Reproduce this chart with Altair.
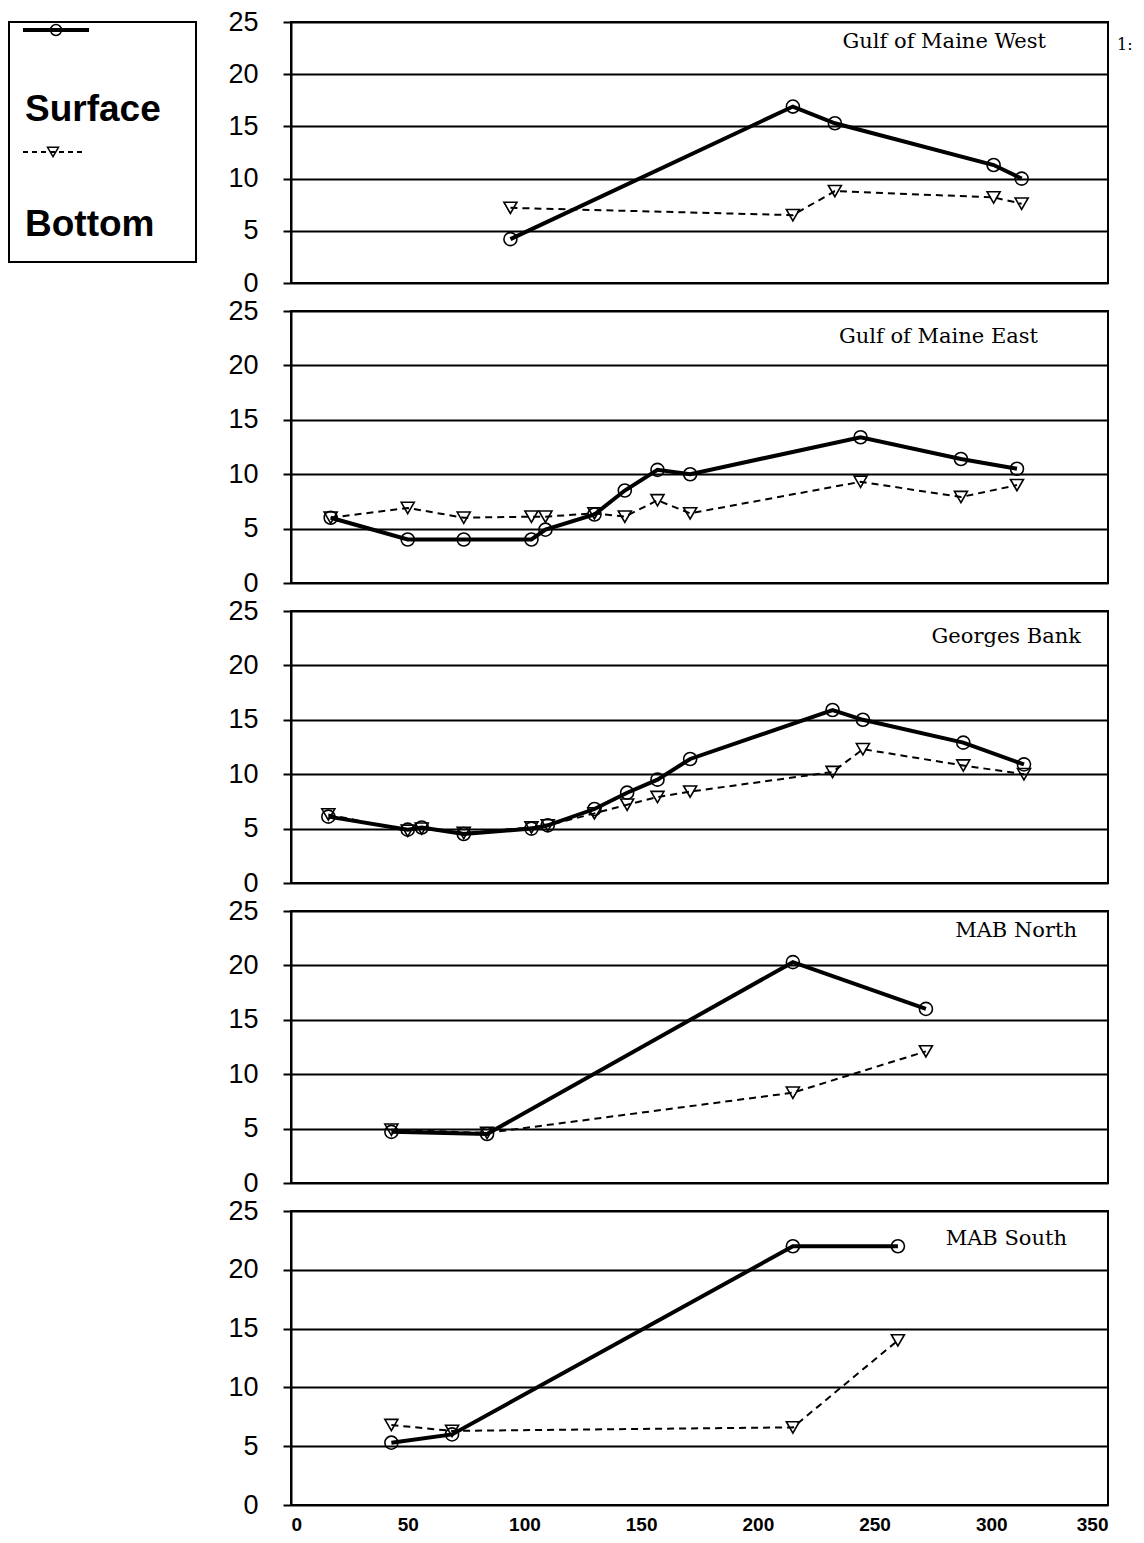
import altair as alt
import pandas as pd

# ---------------- data ----------------
region_names = ["Gulf of Maine West", "Gulf of Maine East", "Georges Bank", "MAB North", "MAB South"]
series_names = ["Surface", "Bottom"]
x_ticks = [0, 50, 100, 150, 200, 250, 300, 350]
y_ticks = [0, 5, 10, 15, 20, 25]

gomw_x = [94, 215, 233, 301, 313]
gomw_surface = [4.2, 16.9, 15.3, 11.3, 10.0]
gomw_bottom = [7.2, 6.5, 8.8, 8.2, 7.6]

gome_x = [17, 50, 74, 103, 109, 130, 143, 157, 171, 244, 287, 311]
gome_surface = [6.0, 4.0, 4.0, 4.0, 4.9, 6.3, 8.5, 10.4, 10.0, 13.4, 11.4, 10.5]
gome_bottom = [6.0, 6.9, 6.0, 6.1, 6.1, 6.4, 6.1, 7.6, 6.4, 9.3, 7.9, 9.0]

gb_x = [16, 50, 56, 74, 103, 110, 130, 144, 157, 171, 232, 245, 288, 314]
gb_surface = [6.1, 4.9, 5.1, 4.5, 5.0, 5.3, 6.8, 8.3, 9.5, 11.4, 15.9, 15.0, 12.9, 10.9]
gb_bottom = [6.3, 4.8, 5.0, 4.6, 5.1, 5.3, 6.4, 7.2, 7.9, 8.4, 10.2, 12.3, 10.8, 10.0]

mabn_x = [43, 84, 215, 272]
mabn_surface = [4.7, 4.5, 20.3, 16.0]
mabn_bottom = [4.9, 4.6, 8.3, 12.1]

mabs_x = [43, 69, 215, 260]
mabs_surface = [5.3, 6.0, 22.0, 22.0]
mabs_bottom = [6.8, 6.3, 6.6, 14.0]

panels_data = [
    (gomw_x, gomw_surface, gomw_bottom),
    (gome_x, gome_surface, gome_bottom),
    (gb_x, gb_surface, gb_bottom),
    (mabn_x, mabn_surface, mabn_bottom),
    (mabs_x, mabs_surface, mabs_bottom),
]

# ---------------- layout / style ----------------
PLOT_W = 817
heights = [261, 272, 272, 272, 294]
title_pos = [(755, 20), (747, 26), (790, 26), (786, 20), (776, 28)]
AXIS_FONT = "Liberation Sans"
TITLE_FONT = "DejaVu Serif"
MARK_SIZE = 170


def make_panel(i):
    xs, surf, bot = panels_data[i]
    df = pd.DataFrame({
        "day": xs + xs,
        "temp": surf + bot,
        "series": [series_names[0]] * len(xs) + [series_names[1]] * len(xs),
    })
    show_x = i == len(panels_data) - 1
    x_axis = alt.Axis(values=x_ticks, ticks=False, domain=False, grid=False,
                      labelFontSize=19, labelFont=AXIS_FONT, labelFontWeight="bold",
                      labelColor="black", labelPadding=10, title=None) if show_x else None
    y_axis = alt.Axis(values=y_ticks, grid=True, gridColor="black", gridWidth=2, gridOpacity=1,
                      tickSize=8, tickColor="black", tickWidth=2,
                      domainColor="black", domainWidth=2,
                      labelFontSize=27, labelFont=AXIS_FONT, labelColor="black",
                      labelPadding=25, title=None)
    enc = dict(
        x=alt.X("day:Q", scale=alt.Scale(domain=[0, 350], nice=False), axis=x_axis),
        y=alt.Y("temp:Q", scale=alt.Scale(domain=[0, 25], nice=False), axis=y_axis),
    )
    base = alt.Chart(df)
    s = base.transform_filter(alt.datum.series == "Surface")
    b = base.transform_filter(alt.datum.series == "Bottom")
    s_line = s.mark_line(color="black", strokeWidth=4).encode(**enc)
    s_pts = s.mark_point(shape="circle", size=MARK_SIZE, color="black", strokeWidth=1.6,
                         filled=False, opacity=1).encode(**enc)
    b_line = b.mark_line(color="black", strokeWidth=2, strokeDash=[7, 5]).encode(**enc)
    b_pts = b.mark_point(shape="triangle-down", size=MARK_SIZE, color="black", strokeWidth=1.6,
                         filled=False, opacity=1).encode(**enc)
    tx, ty = title_pos[i]
    title = alt.Chart(pd.DataFrame({"t": [region_names[i]]})).mark_text(
        align="right", baseline="middle", font=TITLE_FONT, fontSize=21, color="black"
    ).encode(text="t:N", x=alt.value(tx), y=alt.value(ty))
    layers = [s_line, s_pts, b_line, b_pts, title]
    if i == 0:
        page = alt.Chart(pd.DataFrame({"t": ["1:"]})).mark_text(
            align="left", baseline="middle", font=TITLE_FONT, fontSize=16, color="black"
        ).encode(text="t:N", x=alt.value(826), y=alt.value(23))
        layers.append(page)
    return alt.layer(*layers).properties(width=PLOT_W, height=heights[i])


panels = alt.vconcat(*[make_panel(i) for i in range(len(panels_data))], spacing=28, bounds="flush")

# ---------------- custom legend box ----------------
one = pd.DataFrame({"k": [0]})
leg_df = pd.DataFrame({"label": series_names})
leg_surf_line = alt.Chart(one).mark_rule(color="black", strokeWidth=4).encode(
    x=alt.value(14), x2=alt.value(80), y=alt.value(8))
leg_surf_pt = alt.Chart(one).mark_point(shape="circle", size=120, color="black", strokeWidth=1.5,
                                        opacity=1).encode(x=alt.value(47), y=alt.value(8))
leg_bot_line = alt.Chart(one).mark_rule(color="black", strokeWidth=2, strokeDash=[5, 4]).encode(
    x=alt.value(14), x2=alt.value(77), y=alt.value(130))
leg_bot_pt = alt.Chart(one).mark_point(shape="triangle-down", size=120, color="black", strokeWidth=1.5,
                                       opacity=1).encode(x=alt.value(44), y=alt.value(130))
leg_t1 = alt.Chart(leg_df).transform_filter(alt.datum.label == "Surface").mark_text(
    align="left", baseline="middle", font=AXIS_FONT, fontSize=37, fontWeight="bold", color="black"
).encode(text="label:N", x=alt.value(16), y=alt.value(88))
leg_t2 = alt.Chart(leg_df).transform_filter(alt.datum.label == "Bottom").mark_text(
    align="left", baseline="middle", font=AXIS_FONT, fontSize=37, fontWeight="bold", color="black"
).encode(text="label:N", x=alt.value(16), y=alt.value(203))
legend = alt.layer(leg_surf_line, leg_surf_pt, leg_bot_line, leg_bot_pt, leg_t1, leg_t2).properties(
    width=187, height=240)

chart = alt.hconcat(legend, panels, spacing=95, bounds="flush").properties(
    padding={"left": 0, "top": -1, "right": 0, "bottom": 0}
).configure_view(stroke="black", strokeWidth=2)

chart.save("out.html", embed_options={"renderer": "svg", "actions": False})
